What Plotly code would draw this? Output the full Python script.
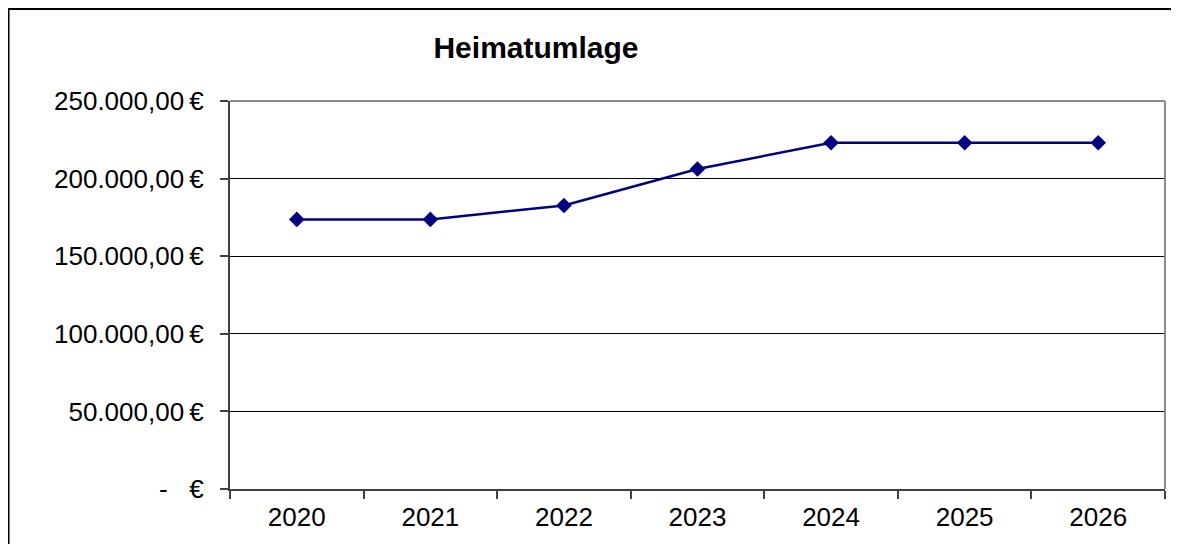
import plotly.graph_objects as go

years = ["2020", "2021", "2022", "2023", "2024", "2025", "2026"]
values = [173700, 173700, 182700, 206200, 223100, 223100, 223100]
y_tick_vals = [0, 50000, 100000, 150000, 200000, 250000]
y_tick_text = ["-\u00a0\u00a0\u00a0€", "50.000,00\u2009€", "100.000,00\u2009€", "150.000,00\u2009€",
               "200.000,00\u2009€", "250.000,00\u2009€"]
title_text = "Heimatumlage"

# page body has an 8px margin; figure coordinates are offset by it
OFF = 8
W, H = 1179 - OFF, 544 - OFF
L, R, T, B = 230 - OFF, 1165 - OFF, 101 - OFF, 491 - OFF

fig = go.Figure()
fig.add_trace(go.Scatter(
    x=years, y=values, mode="lines+markers",
    line=dict(color="#000080", width=2.5),
    marker=dict(symbol="diamond", size=12, color="#000080"),
    showlegend=False, hoverinfo="x+y",
))

pw, ph = R - L, B - T
shapes = [
    # outer chart frame (extends beyond view at right/bottom)
    dict(type="rect", xref="paper", yref="paper",
         x0=(0.5 - L) / pw, x1=(W + 20 - L) / pw,
         y0=(B - H - 20) / ph, y1=(B - 0.5) / ph,
         line=dict(color="#000000", width=2), fillcolor="rgba(0,0,0,0)", layer="below"),
    # top and right plot-area border (gray)
    dict(type="line", xref="paper", yref="paper", x0=0, x1=1, y0=1, y1=1,
         line=dict(color="#8c8c8c", width=2)),
    dict(type="line", xref="paper", yref="paper", x0=1, x1=1, y0=0, y1=1,
         line=dict(color="#8c8c8c", width=2)),
]

fig.update_layout(
    width=W, height=H,
    margin=dict(l=L, r=W - R, t=T, b=H - B, pad=0),
    paper_bgcolor="white", plot_bgcolor="white",
    font=dict(family="Liberation Sans, Arial, sans-serif", color="#000000"),
    title=dict(text="<b>" + title_text + "</b>", x=(536 - OFF) / W, xref="container", xanchor="center",
               y=1 - (47 - OFF) / H, yref="container", yanchor="middle",
               font=dict(size=30, color="#000000")),
    shapes=shapes,
    xaxis=dict(
        type="category", range=[-0.5, 6.5],
        tickson="boundaries", ticks="outside", ticklen=8, tickcolor="#404040", tickwidth=1.5,
        showline=True, linecolor="#404040", linewidth=2,
        showgrid=False, zeroline=False,
        tickfont=dict(size=26), ticklabelstandoff=4,
    ),
    yaxis=dict(
        range=[0, 250000],
        tickvals=y_tick_vals, ticktext=y_tick_text,
        ticks="outside", ticklen=8, tickcolor="#404040", tickwidth=1.5,
        showline=True, linecolor="#404040", linewidth=2,
        showgrid=True, gridcolor="#000000", gridwidth=1,
        zeroline=False,
        tickfont=dict(size=26), ticklabelstandoff=11,
    ),
)

fig.write_html("out.html")
